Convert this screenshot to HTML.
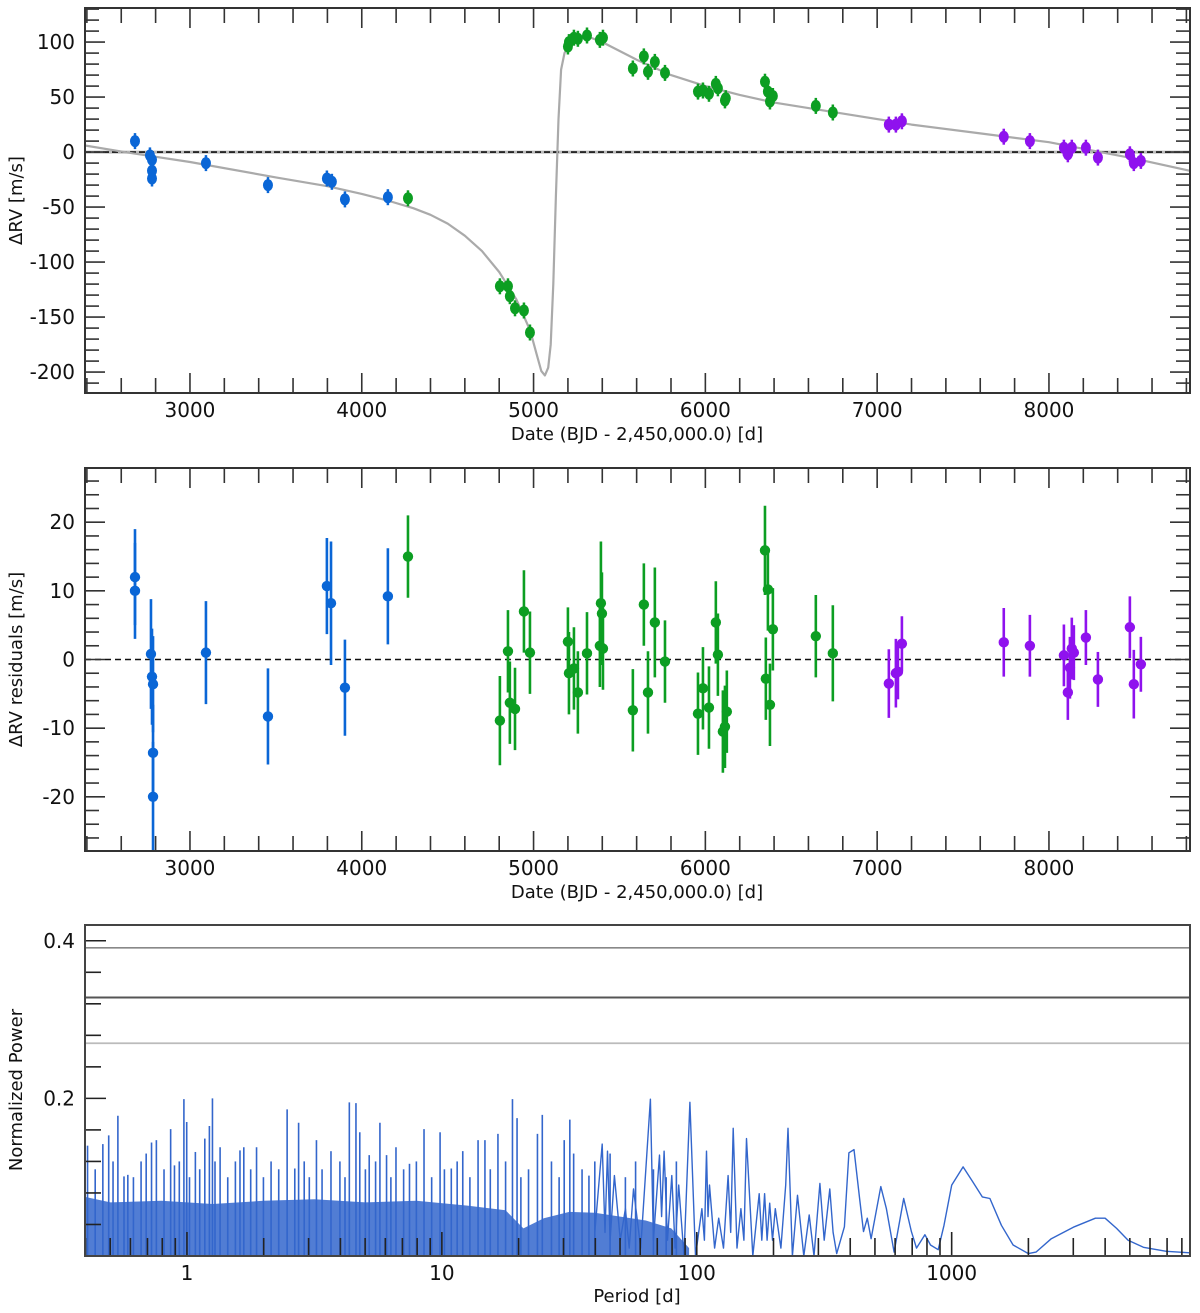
<!DOCTYPE html>
<html><head><meta charset="utf-8"><style>
html,body{margin:0;padding:0;background:#fff;}
svg{display:block;font-family:"DejaVu Sans","Liberation Sans",sans-serif;}
</style></head><body>
<svg id="fig" width="1200" height="1313" viewBox="0 0 1200 1313" xmlns="http://www.w3.org/2000/svg"></svg>
<script>
// ---------- Data: top panel (RV) ----------
const blueDate=[2680,2767,2779,2779,2779,3093,3454,3797,3826,3902,4152];
const blueRV=[10,-3,-7,-17,-24,-10,-30,-24,-27,-43,-41];
const greenDate=[4269,4804,4851,4862,4892,4944,4979,5200,5206,5235,5258,5311,5386,5404,5578,5642,5666,5706,5765,5957,5986,6021,6061,6073,6114,6119,6347,6364,6376,6393,6643,6742];
const greenRV=[-42,-122,-122,-131,-142,-144,-164,96,100,104,103,106,102,104,76,87,73,82,72,55,56,53,62,58,47,49,64,55,46,51,42,36];
const purpleDate=[7068,7109,7144,7737,7889,8087,8110,8133,8215,8285,8471,8494,8535];
const purpleRV=[25,25,28,14,10,4,-2,4,4,-5,-2,-10,-8];
const modelDate=[2389,2620,3000,3500,3800,4000,4150,4300,4400,4500,4600,4700,4800,4900,4980,5020,5045,5066,5085,5100,5115,5130,5145,5160,5180,5210,5300,5400,5600,5800,6000,6200,6400,6800,7200,7600,8000,8200,8500,8821];
const modelRV=[6,0,-9,-23,-31,-38,-44,-51,-57,-65,-76,-90,-109,-134,-162,-185,-199,-203,-196,-175,-120,-40,30,75,90,98,106,100,84,70,60,52,45,35,25,17,9,3,-6,-17];
// ---------- Data: residuals ----------
const resBlueDate=[2680,2680,2773,2779,2785,2785,2785,3093,3454,3797,3821,3902,4152];
const resBlue=[12,10,0.8,-2.5,-3.6,-13.6,-20,1,-8.3,10.7,8.2,-4.1,9.2];
const resBlueErr=[7,7,8,7,7,7,8,7.5,7,7,9,7,7];
const resGreenDate=[4269,4804,4851,4862,4892,4944,4979,5200,5206,5235,5258,5311,5386,5392,5398,5404,5578,5642,5666,5706,5765,5957,5986,6021,6061,6073,6102,6114,6125,6347,6352,6364,6376,6393,6643,6742];
const resGreen=[15,-8.9,1.2,-6.3,-7.2,7,1,2.6,-2,-1.3,-4.8,0.9,2,8.2,6.7,1.6,-7.4,8,-4.8,5.4,-0.3,-7.9,-4.2,-7,5.4,0.7,-10.5,-9.8,-7.6,15.9,-2.8,10.2,-6.6,4.4,3.4,0.9];
const resGreenErr=[6,6.5,6,6,6,6,6,5,6,6,6,6,6,9,6,6,6,6,6,8,6,6,6,6,6,6,6,6,6,6.5,6,6,6,6,6,7];
const resPurpleDate=[7068,7109,7121,7144,7737,7889,8087,8110,8122,8133,8145,8215,8285,8471,8494,8535];
const resPurple=[-3.5,-2,-1.8,2.3,2.5,2,0.6,-4.8,-1.2,1.6,1,3.2,-2.9,4.7,-3.6,-0.7];
const resPurpleErr=[5,5,4,4,5,4.5,4.5,4,4.5,4.5,4,4,4,4.5,5,4];
// ---------- Data: periodogram ----------
const envLogP=[-0.40,-0.3,-0.1,0.1,0.3,0.5,0.7,0.9,1.1,1.25,1.32,1.4,1.5,1.6,1.7,1.8,1.9,1.97];
const envPow=[0.075,0.068,0.07,0.066,0.07,0.072,0.068,0.07,0.064,0.058,0.035,0.048,0.056,0.055,0.05,0.045,0.035,0.01];
const spikeLogP=[-0.390,-0.330,-0.307,-0.271,-0.247,-0.232,-0.139,-0.120,-0.064,-0.049,-0.012,-0.001,0.033,0.070,0.088,0.100,0.130,0.208,0.223,0.273,0.393,0.423,0.438,0.508,0.565,0.637,0.663,0.678,0.715,0.757,0.783,0.820,0.873,0.930,0.993,1.037,1.082,1.142,1.169,1.220,1.277,1.295,1.375,1.394,1.480,1.502,1.517,1.577,
 -0.36,-0.29,-0.21,-0.18,-0.16,-0.09,-0.03,0.01,0.05,0.11,0.16,0.19,0.25,0.30,0.33,0.36,0.46,0.48,0.53,0.60,0.62,0.70,0.74,0.80,0.85,0.90,0.96,1.01,1.06,1.11,1.19,1.25,1.31,1.34,1.43,1.46,1.55,1.60,1.66,1.72,1.76,1.83,1.88,1.92];
const spikePow=[0.140,0.142,0.153,0.178,0.101,0.103,0.144,0.147,0.161,0.115,0.199,0.170,0.132,0.149,0.165,0.200,0.138,0.134,0.138,0.138,0.186,0.111,0.169,0.147,0.133,0.195,0.194,0.157,0.128,0.169,0.128,0.138,0.117,0.161,0.157,0.111,0.133,0.147,0.147,0.155,0.199,0.175,0.155,0.179,0.147,0.173,0.130,0.102,
 0.11,0.12,0.10,0.12,0.13,0.11,0.12,0.10,0.11,0.12,0.10,0.12,0.11,0.10,0.12,0.11,0.12,0.10,0.11,0.12,0.10,0.11,0.12,0.10,0.11,0.12,0.10,0.11,0.12,0.10,0.11,0.12,0.10,0.11,0.12,0.10,0.11,0.12,0.13,0.10,0.12,0.11,0.10,0.12];
const lineLogP=[1.60,1.629,1.64,1.650,1.66,1.677,1.70,1.72,1.735,1.752,1.78,1.818,1.83,1.854,1.862,1.872,1.885,1.902,1.915,1.929,1.95,1.973,1.995,2.020,2.03,2.038,2.044,2.050,2.07,2.086,2.105,2.123,2.133,2.143,2.158,2.173,2.185,2.195,2.22,2.245,2.255,2.266,2.276,2.286,2.297,2.308,2.33,2.349,2.358,2.375,2.395,2.42,2.441,2.46,2.483,2.50,2.522,2.535,2.549,2.579,2.597,2.617,2.639,2.654,2.669,2.684,2.722,2.744,2.774,2.812,2.842,2.862,2.895,2.917,2.947,2.970,3.0,3.045,3.083,3.120,3.150,3.195,3.241,3.301,3.331,3.391,3.481,3.564,3.602,3.647,3.692,3.752,3.842,3.935];
const linePow=[0.03,0.142,0.03,0.133,0.02,0.102,0.02,0.06,0.01,0.085,0.01,0.199,0.02,0.128,0.05,0.133,0.02,0.102,0.01,0.090,0.0,0.195,0.0,0.060,0.02,0.133,0.05,0.090,0.01,0.048,0.01,0.102,0.03,0.162,0.01,0.060,0.02,0.149,0.0,0.079,0.02,0.079,0.02,0.067,0.02,0.060,0.01,0.090,0.162,0.0,0.077,0.0,0.052,0.0,0.092,0.02,0.085,0.03,0.003,0.037,0.131,0.135,0.073,0.031,0.048,0.022,0.088,0.060,0.005,0.073,0.031,0.010,0.027,0.014,0.008,0.039,0.090,0.113,0.094,0.075,0.073,0.039,0.014,0.003,0.005,0.022,0.037,0.048,0.048,0.035,0.020,0.011,0.006,0.004];
const thresholds=[0.391,0.328,0.27];
const rvTicks=[100,50,0,-50,-100,-150,-200];
const resTicks=[20,10,0,-10,-20];
const dateTicks=[3000,4000,5000,6000,7000,8000];
const powTicks=[0.4,0.2];
const periodTicks=[1,10,100,1000];

const NS='http://www.w3.org/2000/svg';
const svg=document.getElementById('fig');
function mk(tag,attrs,parent){const e=document.createElementNS(NS,tag);for(const k in attrs)e.setAttribute(k,attrs[k]);(parent||svg).appendChild(e);return e;}
const BLUE='#0a66d6',GREEN='#0c9e22',PURPLE='#8f12ee';
const L=85,R=1190;
const xDate=d=>L+(d-2389)/(8821-2389)*(R-L);

function dateFrame(g,top,bot,ymin,ymax,minorStep,majorStep,labels,titleTxt){
  const y=v=>bot-(v-ymin)/(ymax-ymin)*(bot-top);
  for(let d=2400;d<=8800;d+=200){
    const x=xDate(d);const major=d%1000===0;const len=major?20:15;
    const t1=mk('line',{x1:x,x2:x,y1:bot,y2:bot-len,stroke:'#333','stroke-width':1.6},g);
    
    
    const t2=mk('line',{x1:x,x2:x,y1:top,y2:top+len,stroke:'#333','stroke-width':1.6},g);
    
    
  }
  for(let v=Math.ceil(ymin/minorStep)*minorStep;v<=ymax;v+=minorStep){
    const yy=y(v);const major=Math.abs(v%majorStep)<1e-9;const len=major?20:14;
    const a=mk('line',{x1:L,x2:L+len,y1:yy,y2:yy,stroke:'#333','stroke-width':1.6},g);
    
    
    const b=mk('line',{x1:R,x2:R-len,y1:yy,y2:yy,stroke:'#333','stroke-width':1.6},g);
    
    
  }
  labels.forEach(v=>{const t=mk('text',{x:L-10,y:y(v)+7,'text-anchor':'end','font-size':20,fill:'#111'},g);t.textContent=v;
    
    });
  dateTicks.forEach(d=>{const t=mk('text',{x:xDate(d),y:bot+24,'text-anchor':'middle','font-size':20,fill:'#111'},g);t.textContent=d;
    
    });
  const xt=mk('text',{x:637,y:bot+47,'text-anchor':'middle','font-size':18,fill:'#111'},g);xt.textContent='Date (BJD - 2,450,000.0) [d]';
  
  
  const cy=(top+bot)/2;
  const yt=mk('text',{x:0,y:0,transform:`translate(22,${cy}) rotate(-90)`,'text-anchor':'middle','font-size':18,fill:'#111'},g);yt.textContent=titleTxt;
  
  
  const fr=mk('rect',{x:L,y:top,width:R-L,height:bot-top,fill:'none',stroke:'#333','stroke-width':2},g);
  
  
  return y;
}

// ---------- Panel 1 ----------
const g1=mk('g',{});


const T1=8,B1=393;
const y1=v=>B1-(v-(-219))/(131-(-219))*(B1-T1);
const zl=mk('line',{x1:L,x2:R,y1:y1(0),y2:y1(0),stroke:'#bbb','stroke-width':3},g1);


const zd=mk('line',{x1:L,x2:R,y1:y1(0),y2:y1(0),stroke:'#111','stroke-width':1.6,'stroke-dasharray':'6,3'},g1);


let md='';modelDate.forEach((d,i)=>{md+=(i?'L':'M')+xDate(d).toFixed(1)+' '+y1(modelRV[i]).toFixed(1);});
const mp=mk('path',{d:md,fill:'none',stroke:'#aaa','stroke-width':2.2,'stroke-linejoin':'round'},g1);


function rvPts(dates,vals,col,name){
  dates.forEach((d,i)=>{const x=xDate(d),yy=y1(vals[i]);
    const e=mk('line',{x1:x,x2:x,y1:yy-8,y2:yy+8,stroke:col,'stroke-width':2.5},g1);
    
    
    const c=mk('ellipse',{cx:x,cy:yy,rx:5,ry:6,fill:col},g1);
    
    });
}
rvPts(blueDate,blueRV,BLUE,'blue-rv');
rvPts(greenDate,greenRV,GREEN,'green-rv');
rvPts(purpleDate,purpleRV,PURPLE,'purple-rv');
dateFrame(g1,T1,B1,-219,131,10,50,rvTicks,'ΔRV [m/s]');

// ---------- Panel 2 ----------
const g2=mk('g',{});


const T2=468,B2=851;
const y2=v=>B2-(v-(-27.9))/(27.9*2)*(B2-T2);
const zr=mk('line',{x1:L,x2:R,y1:y2(0),y2:y2(0),stroke:'#111','stroke-width':1.4,'stroke-dasharray':'6,4'},g2);


function resPts(dates,vals,errs,col,name){
  dates.forEach((d,i)=>{const x=xDate(d),yy=y2(vals[i]);
    const e=mk('line',{x1:x,x2:x,y1:y2(vals[i]+errs[i]),y2:y2(vals[i]-errs[i]),stroke:col,'stroke-width':2.6},g2);
    
    
    const c=mk('circle',{cx:x,cy:yy,r:5.2,fill:col},g2);
    
    });
}
resPts(resBlueDate,resBlue,resBlueErr,BLUE,'blue-residual');
resPts(resGreenDate,resGreen,resGreenErr,GREEN,'green-residual');
resPts(resPurpleDate,resPurple,resPurpleErr,PURPLE,'purple-residual');
dateFrame(g2,T2,B2,-27.9,27.9,2,10,resTicks,'ΔRV residuals [m/s]');

// ---------- Panel 3 ----------
const g3=mk('g',{});


const T3=925,B3=1256,LMIN=-0.40,LMAX=3.935,PMAX=0.42;
const xp=l=>L+(l-LMIN)/(LMAX-LMIN)*(R-L);
const yp=p=>B3-p/PMAX*(B3-T3);
const PC='#3366cc';
let ed='M'+xp(envLogP[0])+' '+B3;
envLogP.forEach((l,i)=>{ed+=' L'+xp(l).toFixed(1)+' '+yp(envPow[i]).toFixed(1);});
ed+=' L'+xp(envLogP[envLogP.length-1]).toFixed(1)+' '+B3+' Z';
const env=mk('path',{d:ed,fill:PC,opacity:0.85},g3);


spikeLogP.forEach((l,i)=>{
  const s=mk('line',{x1:xp(l),x2:xp(l),y1:B3,y2:yp(spikePow[i]),stroke:PC,'stroke-width':1.6},g3);
  
  
});
let pd='';lineLogP.forEach((l,i)=>{pd+=(i?'L':'M')+xp(l).toFixed(1)+' '+yp(linePow[i]).toFixed(1);});
const pl=mk('path',{d:pd,fill:'none',stroke:PC,'stroke-width':1.4,'stroke-linejoin':'round'},g3);


const thrCol=['#888','#555','#bbb'],thrW=[1.6,2,1.8];
thresholds.forEach((p,i)=>{const t=mk('line',{x1:L,x2:R,y1:yp(p),y2:yp(p),stroke:thrCol[i],'stroke-width':thrW[i]},g3);
  
  });
for(let k=1;k<=10;k++){const p=k*0.04;const yy=yp(p);const major=powTicks.some(v=>Math.abs(v-p)<1e-6);
  const t=mk('line',{x1:L,x2:L+(major?21:16),y1:yy,y2:yy,stroke:'#222','stroke-width':1.6},g3);
  
  }
powTicks.forEach(p=>{const t=mk('text',{x:L-10,y:yp(p)+7,'text-anchor':'end','font-size':20,fill:'#111'},g3);t.textContent=p;
  
  });
for(let e=-1;e<=3;e++){for(let m=1;m<=9;m++){const l=e+Math.log10(m);if(l<LMIN||l>LMAX)continue;
  const t=mk('line',{x1:xp(l),x2:xp(l),y1:B3,y2:B3-(m===1?24:18),stroke:'#222','stroke-width':1.6},g3);
  
  }}
periodTicks.forEach(p=>{const t=mk('text',{x:xp(Math.log10(p)),y:B3+24,'text-anchor':'middle','font-size':20,fill:'#111'},g3);t.textContent=p;
  
  });
const px=mk('text',{x:637,y:B3+46,'text-anchor':'middle','font-size':18,fill:'#111'},g3);px.textContent='Period [d]';


const py=mk('text',{x:0,y:0,transform:'translate(22,1090) rotate(-90)','text-anchor':'middle','font-size':18,fill:'#111'},g3);py.textContent='Normalized Power';


const f3=mk('rect',{x:L,y:T3,width:R-L,height:B3-T3,fill:'none',stroke:'#444','stroke-width':2},g3);


</script>
</body></html>
